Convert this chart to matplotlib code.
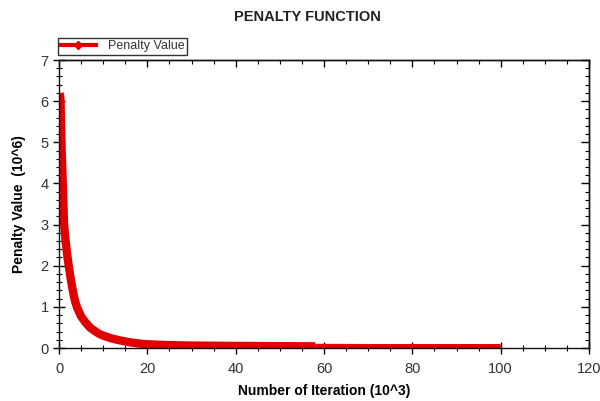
import matplotlib
matplotlib.use("Agg")
import matplotlib.pyplot as plt
from matplotlib.lines import Line2D
from matplotlib.ticker import MultipleLocator

plt.rcParams['font.family'] = ['Liberation Sans', 'DejaVu Sans']

# Data (x in 10^3 iterations, y in 10^6)
iterations = [0.2, 0.35, 0.55, 0.85, 1.15, 1.5, 1.8, 2.2, 2.7, 3.2, 3.6, 4.1, 5.0, 6.0,
              7.0, 8.0, 9.0, 10, 12, 14, 16, 18, 20, 25, 30, 40, 50, 58]
penalty = [6.2, 6.0, 5.0, 4.0, 3.0, 2.6, 2.3, 2.0, 1.65, 1.35, 1.15, 0.98, 0.77, 0.62,
           0.5, 0.42, 0.35, 0.3, 0.23, 0.18, 0.14, 0.11, 0.09, 0.07, 0.06, 0.05, 0.045, 0.04]
iterations_tail = [58, 70, 80, 90, 100]
penalty_tail = [0.035, 0.03, 0.03, 0.03, 0.03]
series_label = "Penalty Value"
title = "PENALTY FUNCTION"
xlabel = "Number of Iteration (10^3)"
ylabel = "Penalty Value  (10^6)"

red = '#e00000'

fig = plt.figure(figsize=(6, 4.01), dpi=100)
ax = fig.add_axes([59/600, 1-348/401, 530/600, 288/401])

ax.plot(iterations, penalty, color=red, lw=6, solid_capstyle='butt', solid_joinstyle='round')
ax.plot(iterations_tail, penalty_tail, color=red, lw=4, solid_capstyle='butt')

ax.set_xlim(0, 120)
ax.set_ylim(0, 7)
ax.xaxis.set_major_locator(MultipleLocator(20))
ax.xaxis.set_minor_locator(MultipleLocator(5))
ax.yaxis.set_major_locator(MultipleLocator(1))
ax.yaxis.set_minor_locator(MultipleLocator(0.2))

for s in ax.spines.values():
    s.set_linewidth(1.0)
    s.set_color('#111111')

ax.tick_params(axis='both', which='major', direction='inout', length=8, width=1,
               labelsize=10.5, labelcolor='#333333', top=False, right=False)
ax.tick_params(axis='both', which='minor', direction='inout', length=4, width=0.8,
               top=False, right=False)
ax.tick_params(axis='x', which='major', pad=6)

# inward ticks on top and right
secx = ax.secondary_xaxis('top')
secx.xaxis.set_major_locator(MultipleLocator(20))
secx.xaxis.set_minor_locator(MultipleLocator(5))
secx.tick_params(which='major', direction='in', length=5, width=1, labeltop=False)
secx.tick_params(which='minor', direction='in', length=3, width=0.8)
secx.spines['top'].set_linewidth(1.0)
secy = ax.secondary_yaxis('right')
secy.yaxis.set_major_locator(MultipleLocator(1))
secy.yaxis.set_minor_locator(MultipleLocator(0.2))
secy.tick_params(which='major', direction='in', length=6, width=1, labelright=False)
secy.tick_params(which='minor', direction='in', length=3, width=0.8)
secy.spines['right'].set_linewidth(1.0)

ax.set_xlabel(xlabel, fontsize=10, fontweight='bold', labelpad=6)
ax.set_ylabel(ylabel, fontsize=10, fontweight='bold', labelpad=10)

fig.text(307/600, 1-17/401, title, ha='center', va='center', fontsize=10.5, fontweight='bold', color='#222222')

handle = Line2D([], [], color=red, lw=3, marker='D', markersize=4,
                markerfacecolor=red, markeredgecolor=red)
leg = fig.legend([handle], [series_label], loc='lower left',
                 bbox_to_anchor=(58/600, 1-55/401), fontsize=9, frameon=True,
                 fancybox=False, edgecolor='black', borderpad=0.2, handlelength=2.8,
                 handletextpad=1.0, borderaxespad=0, markerscale=1)
leg.get_frame().set_linewidth(1.0)
for t in leg.get_texts():
    t.set_color('#333333')

fig.savefig("out.png", dpi=100)
